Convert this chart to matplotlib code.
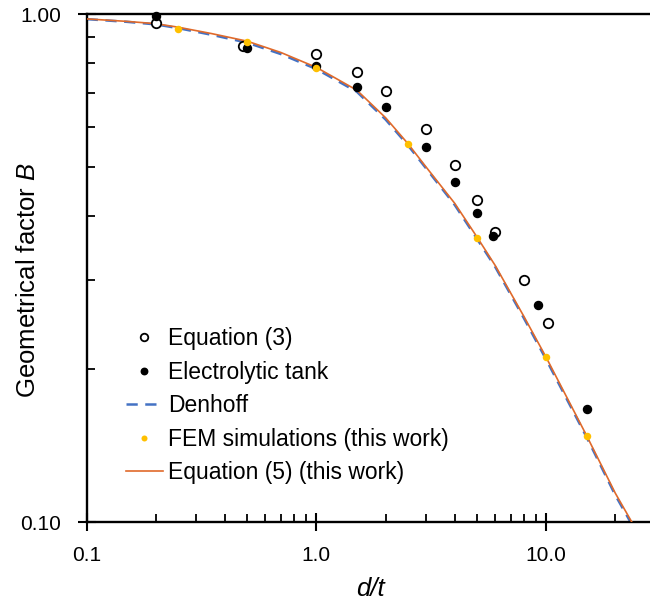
import matplotlib
matplotlib.use("Agg")
import matplotlib.pyplot as plt
from matplotlib.ticker import FixedLocator, NullFormatter

plt.rcParams["font.family"] = ["Liberation Sans", "DejaVu Sans"]
plt.rcParams["mathtext.fontset"] = "custom"
plt.rcParams["mathtext.rm"] = "Liberation Sans"
plt.rcParams["mathtext.it"] = "Liberation Sans:italic"

# Equation (3), open circles
eq3_x = [0.2, 0.48, 1.0, 1.5, 2.0, 3.0, 4.0, 5.0, 6.0, 8.0, 10.2]
eq3_b = [0.961, 0.866, 0.833, 0.768, 0.706, 0.593, 0.504, 0.430, 0.373, 0.299, 0.246]

# Electrolytic tank, filled black
tank_x = [0.2, 0.5, 1.0, 1.5, 2.0, 3.0, 4.0, 5.0, 5.9, 9.2, 15.0]
tank_b = [0.99, 0.856, 0.790, 0.719, 0.657, 0.548, 0.467, 0.406, 0.366, 0.268, 0.167]

# FEM simulations (this work), yellow
fem_x = [0.25, 0.5, 1.0, 2.5, 5.0, 10.0, 15.0]
fem_b = [0.934, 0.882, 0.782, 0.554, 0.363, 0.211, 0.148]

# Curves
curve_x = [0.1, 0.15, 0.2, 0.25, 0.35, 0.5, 0.7, 1.0, 1.5, 2.0, 2.5, 3.0,
           4.0, 5.0, 6.0, 8.0, 10.0, 15.0, 20.0, 23.6]
eq5_b = [0.978, 0.967, 0.957, 0.942, 0.915, 0.884, 0.840, 0.785, 0.708, 0.625,
         0.556, 0.500, 0.424, 0.364, 0.320, 0.254, 0.211, 0.148, 0.114, 0.100]
denhoff_b = [0.977, 0.965, 0.954, 0.938, 0.910, 0.878, 0.834, 0.779, 0.703, 0.620,
             0.552, 0.497, 0.421, 0.361, 0.318, 0.252, 0.209, 0.147, 0.113, 0.099]

fig = plt.figure(figsize=(6.5, 6.01), dpi=100)
ax = fig.add_axes([86.7 / 650, 79 / 601, 569 / 650, 508 / 601])

ax.plot(curve_x, denhoff_b, color="#4472C4", lw=1.8, dashes=(4.5, 3),
        label="Denhoff", zorder=2)
ax.plot(curve_x, eq5_b, color="#E06A2B", lw=1.2,
        label="Equation (5) (this work)", zorder=3)
ax.plot(eq3_x, eq3_b, "o", ms=6.8, mfc="white", mec="black", mew=1.3,
        label="Equation (3)", zorder=4, clip_on=False)
ax.plot(tank_x, tank_b, "o", ms=5.8, color="black",
        label="Electrolytic tank", zorder=5, clip_on=False)
ax.plot(fem_x, fem_b, "o", ms=5.4, color="#FFC000", mec="none",
        label="FEM simulations (this work)", zorder=6, clip_on=False)

ax.set_xscale("log")
ax.set_yscale("log")
ax.set_xlim(0.1, 30)
ax.set_ylim(0.1, 1.0)

ax.xaxis.set_major_locator(FixedLocator([0.1, 1.0, 10.0]))
ax.set_xticklabels(["0.1", "1.0", "10.0"])
ax.xaxis.set_minor_locator(FixedLocator([m * d for d in (0.1, 1.0, 10.0) for m in range(2, 10)]))
ax.xaxis.set_minor_formatter(NullFormatter())
ax.yaxis.set_major_locator(FixedLocator([0.1, 1.0]))
ax.set_yticklabels(["0.10", "1.00"])
ax.yaxis.set_minor_locator(FixedLocator([0.2, 0.3, 0.4, 0.5, 0.6, 0.7, 0.8, 0.9]))
ax.yaxis.set_minor_formatter(NullFormatter())

ax.tick_params(which="major", direction="inout", length=13, width=1.5,
               labelsize=15)
ax.tick_params(axis="x", which="major", pad=11)
ax.tick_params(axis="y", which="major", pad=12)
ax.tick_params(which="minor", direction="in", length=6, width=1.3)

for side in ("left", "bottom", "top", "right"):
    ax.spines[side].set_linewidth(1.7)

ax.set_xlabel("d/t", fontsize=18.5, style="italic")
ax.set_ylabel("Geometrical factor $\\mathit{B}$", fontsize=18.5)
ax.xaxis.set_label_coords(0.498, -0.108)
ax.yaxis.set_label_coords(-0.082, 0.476)

handles, labels = ax.get_legend_handles_labels()
order = ["Equation (3)", "Electrolytic tank", "Denhoff",
         "FEM simulations (this work)", "Equation (5) (this work)"]
hl = dict(zip(labels, handles))
fig.legend([hl[k] for k in order], order, loc="upper left",
           bbox_to_anchor=(126 / 650, 1 - 327 / 601), frameon=False,
           fontsize=16.5, borderpad=0, borderaxespad=0, handlelength=1.6,
           handletextpad=0.22, labelspacing=0.46, markerscale=0.8)

fig.savefig("out.png", dpi=100)
